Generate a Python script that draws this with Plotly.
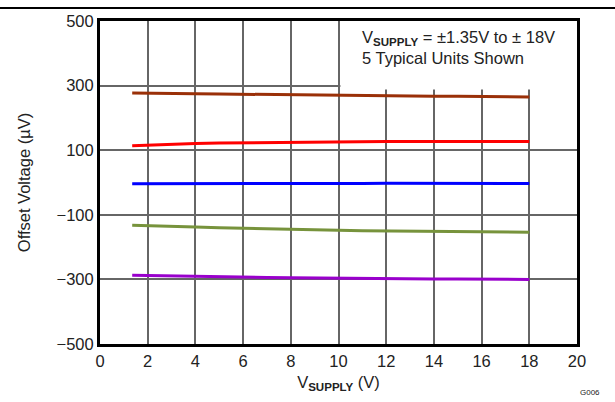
import plotly.graph_objects as go

v_supply = [1.35, 2, 3, 4, 5, 6, 7, 8, 9, 10, 11, 12, 13, 14, 15, 16, 17, 18]
unit1 = [277, 277, 276, 275, 274, 273, 272, 271, 271, 270, 269, 268, 268, 267, 267, 266, 265, 265]
unit2 = [114, 116, 119, 121, 122, 123, 124, 125, 126, 126, 127, 127, 127, 128, 127, 127, 127, 127]
unit3 = [-4, -4, -5, -4, -4, -3, -3, -4, -3, -3, -3, -2, -2, -3, -3, -3, -3, -3]
unit4 = [-132, -133, -136, -138, -140, -142, -144, -145, -147, -148, -149, -150, -150, -151, -152, -153, -153, -154]
unit5 = [-287, -288, -290, -291, -292, -293, -294, -295, -296, -296, -297, -298, -298, -299, -299, -300, -300, -300]

series = [unit1, unit2, unit3, unit4, unit5]
colors = ["#9A3008", "#FF0000", "#0000FF", "#77933C", "#9900CC"]

x_ticks = [0, 2, 4, 6, 8, 10, 12, 14, 16, 18, 20]
y_ticks = [500, 300, 100, -100, -300, -500]
y_tick_text = ["500", "300", "100", "\u2212100", "\u2212300", "\u2212500"]

fig = go.Figure()
for vals, c in zip(series, colors):
    fig.add_trace(go.Scatter(x=v_supply, y=vals, mode="lines",
                             line=dict(color=c, width=3), showlegend=False))

font_family = "Liberation Sans, Arial, sans-serif"

fig.update_layout(
    width=615, height=402,
    margin=dict(l=100, r=38, t=15, b=58),
    paper_bgcolor="white", plot_bgcolor="white",
    font=dict(family=font_family, size=16.5, color="#222"),
    xaxis=dict(range=[0, 20], tickvals=x_ticks, showgrid=True,
               gridcolor="#666666", gridwidth=1.5, zeroline=False,
               showline=True, linecolor="black", linewidth=3, mirror=True,
               ticks="", ticklen=0,
               title=dict(text="V<sub><b>SUPPLY</b></sub> (V)", standoff=8,
                          font=dict(size=16.5))),
    yaxis=dict(range=[-500, 500], tickvals=y_ticks, ticktext=y_tick_text,
               showgrid=True, gridcolor="#666666", gridwidth=1.5, zeroline=False,
               showline=True, linecolor="black", linewidth=3, mirror=True,
               ticks="", ticklen=0,
               title=dict(text="Offset Voltage (\u00b5V)", standoff=22,
                          font=dict(size=16.5))),
)

# white box behind the note (covers gridlines)
fig.add_shape(type="rect", xref="x", yref="y", x0=10.08, x1=20, y0=288, y1=500,
              fillcolor="white", line=dict(width=0), layer="between")

fig.add_annotation(xref="paper", yref="paper", x=0.545, y=0.985,
                   xanchor="left", yanchor="top", showarrow=False, align="left",
                   text="V<sub><b>SUPPLY</b></sub> = \u00b11.35V to \u00b1 18V<br>5 Typical Units Shown",
                   font=dict(size=16.5, color="#222"))

fig.add_annotation(xref="paper", yref="paper", x=1.028, y=-0.15,
                   xanchor="center", yanchor="middle", showarrow=False,
                   text="G006", font=dict(size=8, color="#222"))

# header rule
fig.add_shape(type="line", xref="paper", yref="paper", x0=-0.21, x1=1.08,
              y0=1.04, y1=1.04, line=dict(color="black", width=2))

fig.write_html("out.html", config={"displayModeBar": False},
               post_script="document.body.style.margin='0';document.body.style.overflow='hidden';")
